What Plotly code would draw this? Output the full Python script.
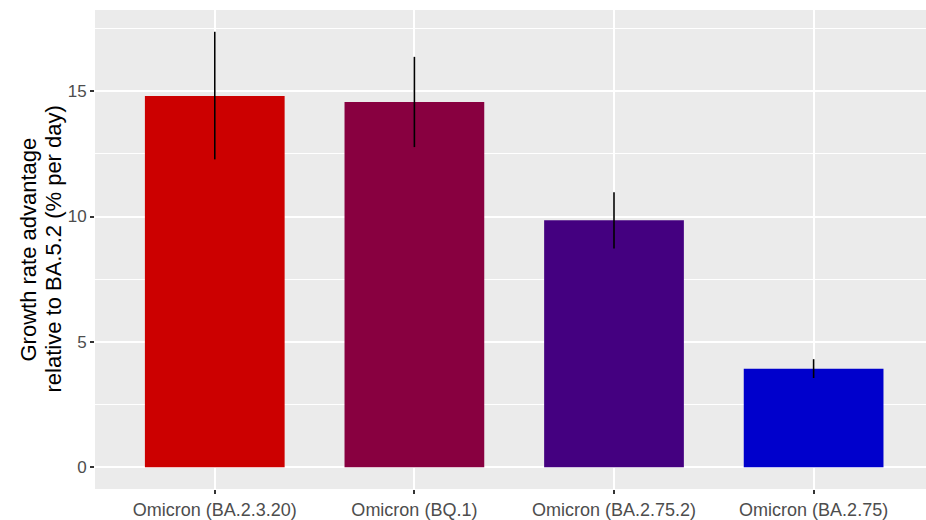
import plotly.graph_objects as go

# Growth rate advantage estimates with 95% intervals
variants = ["Omicron (BA.2.3.20)", "Omicron (BQ.1)", "Omicron (BA.2.75.2)", "Omicron (BA.2.75)"]
advantage = [14.81, 14.57, 9.85, 3.93]
lower_ci = [12.28, 12.77, 8.72, 3.56]
upper_ci = [17.37, 16.37, 10.97, 4.31]
bar_colors = ["#CC0000", "#880040", "#440080", "#0000CC"]
y_ticks = [0, 5, 10, 15]
y_title_lines = ["Growth rate advantage", "relative to BA.5.2 (% per day)"]

err_plus = [u - m for u, m in zip(upper_ci, advantage)]
err_minus = [m - l for m, l in zip(advantage, lower_ci)]

fig = go.Figure(
    go.Bar(
        x=variants,
        y=advantage,
        width=0.7,
        marker=dict(color=bar_colors, line=dict(width=0)),
        error_y=dict(
            type="data",
            symmetric=False,
            array=err_plus,
            arrayminus=err_minus,
            width=0,
            thickness=1.6,
            color="black",
        ),
        showlegend=False,
    )
)

ymax = max(upper_ci)
pad = 0.05 * ymax

fig.update_layout(
    width=926,
    height=520,
    margin=dict(l=95, r=0, t=10, b=31),
    paper_bgcolor="white",
    plot_bgcolor="#EBEBEB",
    font=dict(family="Liberation Sans, Arial, sans-serif", color="#4D4D4D", size=17),
)

fig.update_xaxes(
    range=[-0.6, 3.563],
    showgrid=True,
    gridcolor="white",
    gridwidth=1.8,
    ticks="outside",
    ticklen=4,
    tickwidth=1.5,
    tickcolor="#333333",
    tickfont=dict(size=18, color="#4D4D4D"),
    zeroline=False,
    showline=False,
)

fig.update_yaxes(
    range=[-pad, ymax + pad],
    tickvals=y_ticks,
    showgrid=True,
    gridcolor="white",
    gridwidth=1.8,
    minor=dict(dtick=2.5, tick0=0, showgrid=True, gridcolor="white", gridwidth=0.9),
    ticks="outside",
    ticklen=4,
    tickwidth=1.5,
    tickcolor="#333333",
    tickfont=dict(size=17, color="#4D4D4D"),
    zeroline=False,
    showline=False,
)

# Two-line rotated y-axis title, placed line by line
plot_left, plot_width = 95, 926 - 95
for line, x_px in zip(y_title_lines, [28, 53]):
    fig.add_annotation(
        text=line,
        xref="paper",
        yref="paper",
        x=(x_px - plot_left) / plot_width,
        y=0.5,
        xanchor="center",
        yanchor="middle",
        textangle=-90,
        showarrow=False,
        font=dict(size=22, color="black"),
    )

fig.write_html("out.html")
